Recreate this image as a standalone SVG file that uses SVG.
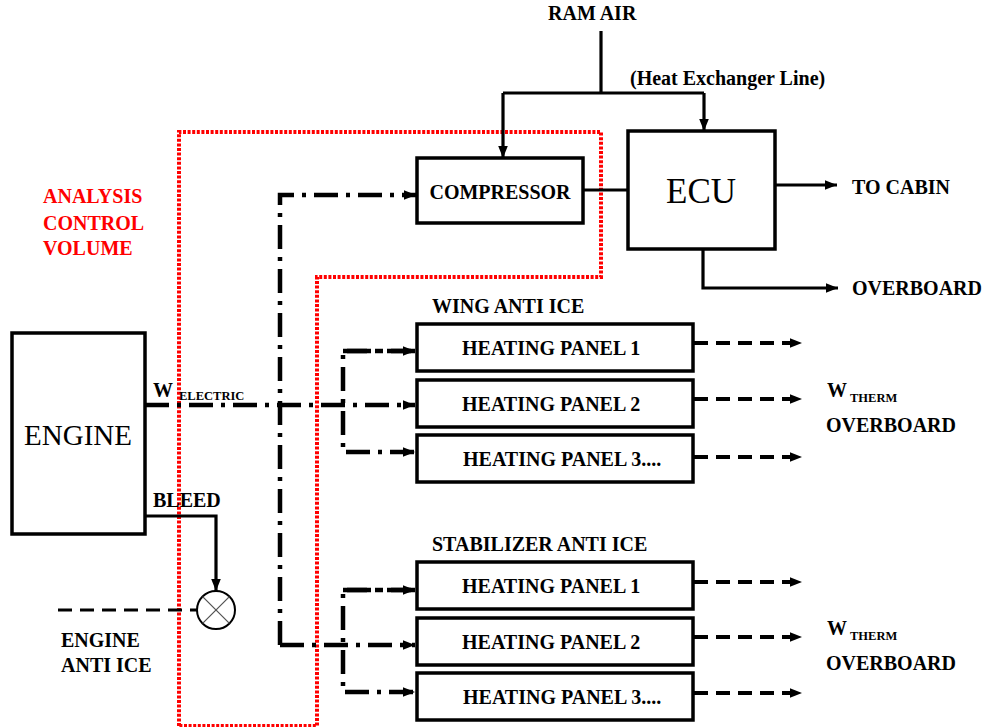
<svg xmlns="http://www.w3.org/2000/svg" width="984" height="727" viewBox="0 0 984 727">
<style>
.box{fill:#fff;stroke:#000;stroke-width:3.5}
.t{font-family:"Liberation Serif","Times New Roman",serif;font-weight:bold;font-size:20px;fill:#000}
.sub{font-family:"Liberation Serif","Times New Roman",serif;font-weight:bold;font-size:12.5px;fill:#000}
.red{fill:#ff0000}
.solid{fill:none;stroke:#000;stroke-width:3.2}
.dd{fill:none;stroke:#000;stroke-width:4.5;stroke-dasharray:24 8 4 8}
.dash{fill:none;stroke:#000;stroke-width:3.8;stroke-dasharray:14 8}
.cv{fill:none;stroke:#ff0000;stroke-width:4;stroke-dasharray:3 1.6}
</style>
<defs>
<marker id="ah" viewBox="0 0 10 8" refX="10" refY="4" markerWidth="12" markerHeight="10" markerUnits="userSpaceOnUse" orient="auto">
<path d="M0,0 L10,4 L0,8 z" fill="#000"/>
</marker>
</defs>
<rect width="984" height="727" fill="#fff"/>

<g id="control-volume">
<path class="cv" d="M179,726 V132 H601 V277 H317 V726 Z"/>
<text class="t red" x="43" y="203">ANALYSIS</text>
<text class="t red" x="43" y="230">CONTROL</text>
<text class="t red" x="43" y="255">VOLUME</text>
</g>

<g id="connectors">
<path class="solid" d="M601,31 V93"/>
<path class="solid" d="M503,93 H704"/>
<path class="solid" d="M503,93 V158" marker-end="url(#ah)"/>
<path class="solid" d="M704,93 V131" marker-end="url(#ah)"/>
<path class="solid" d="M583,190 H628"/>
<path class="solid" d="M775,185 H837" marker-end="url(#ah)"/>
<path class="solid" d="M703,249 V288 H838" marker-end="url(#ah)"/>
<path class="dd" d="M145,405 H415" marker-end="url(#ah)"/>
<path class="dd" d="M280,645 V195 H416" marker-end="url(#ah)"/>
<path class="dd" d="M280,645 H415" marker-end="url(#ah)"/>
<path class="dd" d="M415,351 H343 V452 H415" marker-end="url(#ah)"/>
<path class="dd" d="M343,351 H415" marker-end="url(#ah)"/>
<path class="dd" d="M415,590 H343 V692 H415" marker-end="url(#ah)"/>
<path class="dd" d="M343,590 H415" marker-end="url(#ah)"/>
<path class="dash" d="M694,343 H802" marker-end="url(#ah)"/>
<path class="dash" d="M694,399 H802" marker-end="url(#ah)"/>
<path class="dash" d="M694,457 H802" marker-end="url(#ah)"/>
<path class="dash" d="M694,582 H802" marker-end="url(#ah)"/>
<path class="dash" d="M694,637 H802" marker-end="url(#ah)"/>
<path class="dash" d="M694,693 H802" marker-end="url(#ah)"/>
<path class="solid" d="M145,516 H216 V591" marker-end="url(#ah)"/>
<path class="dash" d="M58,610 H197" style="stroke-width:3.2"/>
</g>

<g id="ram-air-label">
<text class="t" x="548" y="20">RAM AIR</text>
<text class="t" x="630" y="85">(Heat Exchanger Line)</text>
</g>

<g id="compressor">
<rect class="box" x="417" y="158" width="166" height="65"/>
<text class="t" x="500" y="199" text-anchor="middle">COMPRESSOR</text>
</g>

<g id="ecu">
<rect class="box" x="628" y="131" width="147" height="118"/>
<text x="701" y="203" text-anchor="middle" style="font-family:'Liberation Serif','Times New Roman',serif;font-size:35px">ECU</text>
</g>

<g id="outputs">
<text class="t" x="852" y="194">TO CABIN</text>
<text class="t" x="852" y="295">OVERBOARD</text>
</g>

<g id="engine">
<rect class="box" x="12" y="333" width="133" height="201"/>
<text x="78" y="445" text-anchor="middle" style="font-family:'Liberation Serif','Times New Roman',serif;font-size:29px">ENGINE</text>
<text class="t" x="153" y="397">W</text>
<text class="sub" x="179" y="400">ELECTRIC</text>
<text class="t" x="153" y="507">BLEED</text>
</g>

<g id="valve">
<circle cx="216" cy="610" r="19" fill="#fff" stroke="#000" stroke-width="2"/>
<path d="M202.6,596.6 L229.4,623.4 M229.4,596.6 L202.6,623.4" stroke="#555" stroke-width="1.3"/>
</g>

<g id="engine-anti-ice">
<text class="t" x="61" y="647">ENGINE</text>
<text class="t" x="61" y="672">ANTI ICE</text>
</g>

<g id="wing-anti-ice">
<text class="t" x="432" y="313">WING ANTI ICE</text>
<g id="wing-panel-1">
<rect class="box" x="417" y="324" width="276" height="47"/>
<text class="t" x="462" y="355">HEATING PANEL 1</text>
</g>
<g id="wing-panel-2">
<rect class="box" x="417" y="380" width="276" height="47"/>
<text class="t" x="462" y="411">HEATING PANEL 2</text>
</g>
<g id="wing-panel-3">
<rect class="box" x="417" y="435" width="276" height="47"/>
<text class="t" x="463" y="466">HEATING PANEL 3....</text>
</g>
<text class="t" x="827" y="397">W</text>
<text class="sub" x="850" y="402">THERM</text>
<text class="t" x="826" y="432">OVERBOARD</text>
</g>

<g id="stabilizer-anti-ice">
<text class="t" x="432" y="551">STABILIZER ANTI ICE</text>
<g id="stab-panel-1">
<rect class="box" x="417" y="562" width="276" height="47"/>
<text class="t" x="462" y="593">HEATING PANEL 1</text>
</g>
<g id="stab-panel-2">
<rect class="box" x="417" y="618" width="276" height="47"/>
<text class="t" x="462" y="649">HEATING PANEL 2</text>
</g>
<g id="stab-panel-3">
<rect class="box" x="417" y="673" width="276" height="47"/>
<text class="t" x="463" y="704">HEATING PANEL 3....</text>
</g>
<text class="t" x="827" y="635">W</text>
<text class="sub" x="850" y="640">THERM</text>
<text class="t" x="826" y="670">OVERBOARD</text>
</g>
</svg>
